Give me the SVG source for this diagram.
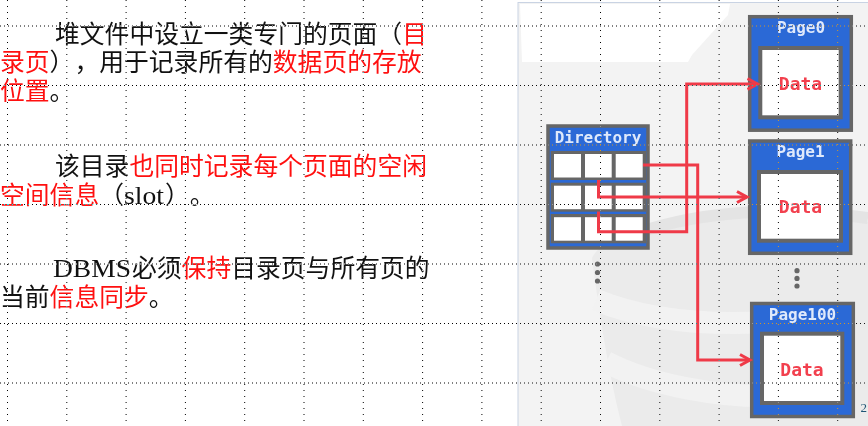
<svg xmlns="http://www.w3.org/2000/svg" width="868" height="426" viewBox="0 0 868 426">
<defs>
<style>
.cn{font-family:"Noto Sans CJK SC","Noto Sans",sans-serif;font-size:24.8px;fill:#111;text-spacing-trim:space-all}
.r{fill:#ff1010}
.lat{font-family:"Liberation Serif","DejaVu Serif",serif}
.blue{fill:#2b69d6;stroke:#666;stroke-width:3.5}
.inner{fill:#fff;stroke:#666;stroke-width:4}
.band{fill:#666}
.cell{fill:#fff}
.lbl{font-family:"DejaVu Sans Mono","Liberation Mono",monospace;font-size:16px;font-weight:bold;fill:#dfe9fb;text-anchor:middle}
.data{font-family:"DejaVu Sans Mono","Liberation Mono",monospace;font-size:18px;font-weight:bold;fill:#f2404e;text-anchor:middle}
.con{fill:none;stroke:#ef3a48;stroke-width:3;stroke-linejoin:miter}
.dot{fill:#666}
.gh{stroke:#fff;stroke-width:1;stroke-dasharray:1 3}
.gv{stroke:#fff;stroke-width:1;stroke-dasharray:1 5}
.wm{fill:none}
</style>
<marker id="arr" markerUnits="userSpaceOnUse" markerWidth="16" markerHeight="16" refX="11" refY="8" orient="auto">
<path d="M1,2.5 L11,8 L1,13.5" fill="none" stroke="#ef3a48" stroke-width="3"/>
</marker>
</defs>
<rect width="868" height="426" fill="#fff"/>

<!-- right panel background -->
<g id="panel">
<rect x="518" y="2.5" width="352" height="426" fill="#f3f3f3" stroke="#c9d3e3" stroke-width="1"/>
<polygon points="520,4 730,4 728,15 692,55 688,62 522,62" fill="#fff"/>
<path d="M592,258 C600,320 610,380 622,426 L868,426 L868,222 C800,206 700,208 640,228 C612,238 596,248 592,258 Z" fill="#ebebeb"/>
<path class="wm" d="M596,300 C640,318 700,326 770,322" stroke="#f2f2f2" stroke-width="22"/>
<path class="wm" d="M606,362 C650,385 720,398 780,396" stroke="#f2f2f2" stroke-width="22"/>
<path class="wm" d="M640,232 C700,212 780,205 868,218" stroke="#e4e4e4" stroke-width="12"/>
</g>

<!-- left text -->
<g id="text">
<text class="cn" x="55" y="42.5">堆文件中设立一类专门的页面（<tspan class="r">目</tspan></text>
<text class="cn" y="71"><tspan x="0" class="r">录页</tspan><tspan x="49.6">）</tspan><tspan x="74.4">，</tspan><tspan x="99.2">用于记录所有的</tspan><tspan x="272.8" class="r">数据页的存放</tspan></text>
<text class="cn" x="0" y="99.5"><tspan class="r">位置</tspan>。</text>
<text class="cn" x="55" y="174.5">该目录<tspan class="r">也同时记录每个页面的空闲</tspan></text>
<text class="cn" y="204"><tspan x="0" class="r">空间信息</tspan><tspan x="99.2">（</tspan><tspan x="124" class="lat" textLength="40" lengthAdjust="spacingAndGlyphs">slot</tspan><tspan x="165">）</tspan><tspan x="189.8">。</tspan></text>
<text class="cn" y="277"><tspan x="53" class="lat" textLength="78" lengthAdjust="spacingAndGlyphs">DBMS</tspan><tspan x="132">必须</tspan><tspan class="r">保持</tspan>目录页与所有页的</text>
<text class="cn" x="0" y="306">当前<tspan class="r">信息同步</tspan>。</text>
</g>

<!-- nodes -->
<g id="directory">
<rect class="blue" x="548" y="126" width="100" height="122" stroke-width="4"/>
<text class="lbl" x="598" y="142.5">Directory</text>
<rect class="band" x="550.7" y="151" width="95.3" height="29"/>
<rect class="band" x="550.7" y="182.7" width="95.3" height="29"/>
<rect class="band" x="550.7" y="214" width="95.3" height="29.3"/>
<rect class="cell" x="554" y="154" width="27" height="23.5"/>
<rect class="cell" x="585" y="154" width="26.7" height="23.5"/>
<rect class="cell" x="615.7" y="154" width="27" height="23.5"/>
<rect class="cell" x="554" y="185.7" width="27" height="23.5"/>
<rect class="cell" x="585" y="185.7" width="26.7" height="23.5"/>
<rect class="cell" x="615.7" y="185.7" width="27" height="23.5"/>
<rect class="cell" x="554" y="217.2" width="27" height="23.5"/>
<rect class="cell" x="585" y="217.2" width="26.7" height="23.5"/>
<rect class="cell" x="615.7" y="217.2" width="27" height="23.5"/>
</g>

<g id="page0">
<rect class="blue" x="749.7" y="16.7" width="101.6" height="113.5"/>
<text class="lbl" x="801" y="33">Page0</text>
<rect class="inner" x="760.3" y="48" width="80.4" height="69.3"/>
<text class="data" x="800.5" y="90">Data</text>
</g>

<g id="page1">
<rect class="blue" x="749.7" y="141" width="101" height="112.3"/>
<text class="lbl" x="800.5" y="157">Page1</text>
<rect class="inner" x="759" y="172" width="82" height="68.7"/>
<text class="data" x="800.5" y="213">Data</text>
</g>

<g id="page100">
<rect class="blue" x="751.7" y="303.5" width="101.6" height="113"/>
<text class="lbl" x="802.5" y="319.5">Page100</text>
<rect class="inner" x="762" y="333.7" width="80.3" height="69.3"/>
<text class="data" x="802" y="376">Data</text>
</g>

<g id="ellipsis">
<circle class="dot" cx="597.5" cy="264" r="2.6"/>
<circle class="dot" cx="597.5" cy="272.5" r="2.6"/>
<circle class="dot" cx="597.5" cy="281" r="2.6"/>
<circle class="dot" cx="797" cy="270.7" r="2.6"/>
<circle class="dot" cx="797" cy="278.4" r="2.6"/>
<circle class="dot" cx="797" cy="286" r="2.6"/>
</g>

<!-- connectors -->
<g id="connectors">
<path class="con" d="M643,165 H697.7 V360 H750" marker-end="url(#arr)"/>
<path class="con" d="M598.5,180 V197 H747" marker-end="url(#arr)"/>
<path class="con" d="M598.5,211.5 V231.7 H686.7 V84 H757.5" marker-end="url(#arr)"/>
</g>

<text x="860.5" y="412" font-family="Liberation Serif,serif" font-size="13" fill="#1e5575">2</text>

<!-- guide grid -->
<g id="grid" style="mix-blend-mode:difference">
<line class="gh" x1="0" y1="26" x2="868" y2="26"/>
<line class="gh" x1="0" y1="85.5" x2="868" y2="85.5"/>
<line class="gh" x1="0" y1="145" x2="868" y2="145"/>
<line class="gh" x1="0" y1="204.5" x2="868" y2="204.5"/>
<line class="gh" x1="0" y1="264" x2="868" y2="264"/>
<line class="gh" x1="0" y1="323.5" x2="868" y2="323.5"/>
<line class="gh" x1="0" y1="383" x2="868" y2="383"/>
<line class="gv" x1="7.5" y1="0" x2="7.5" y2="426"/>
<line class="gv" x1="66.8" y1="0" x2="66.8" y2="426"/>
<line class="gv" x1="126.1" y1="0" x2="126.1" y2="426"/>
<line class="gv" x1="185.4" y1="0" x2="185.4" y2="426"/>
<line class="gv" x1="244.7" y1="0" x2="244.7" y2="426"/>
<line class="gv" x1="304" y1="0" x2="304" y2="426"/>
<line class="gv" x1="363.3" y1="0" x2="363.3" y2="426"/>
<line class="gv" x1="422.6" y1="0" x2="422.6" y2="426"/>
<line class="gv" x1="481.9" y1="0" x2="481.9" y2="426"/>
<line class="gv" x1="541.2" y1="0" x2="541.2" y2="426"/>
<line class="gv" x1="600.5" y1="0" x2="600.5" y2="426"/>
<line class="gv" x1="659.8" y1="0" x2="659.8" y2="426"/>
<line class="gv" x1="719.1" y1="0" x2="719.1" y2="426"/>
<line class="gv" x1="778.4" y1="0" x2="778.4" y2="426"/>
<line class="gv" x1="837.7" y1="0" x2="837.7" y2="426"/>
</g>
</svg>
